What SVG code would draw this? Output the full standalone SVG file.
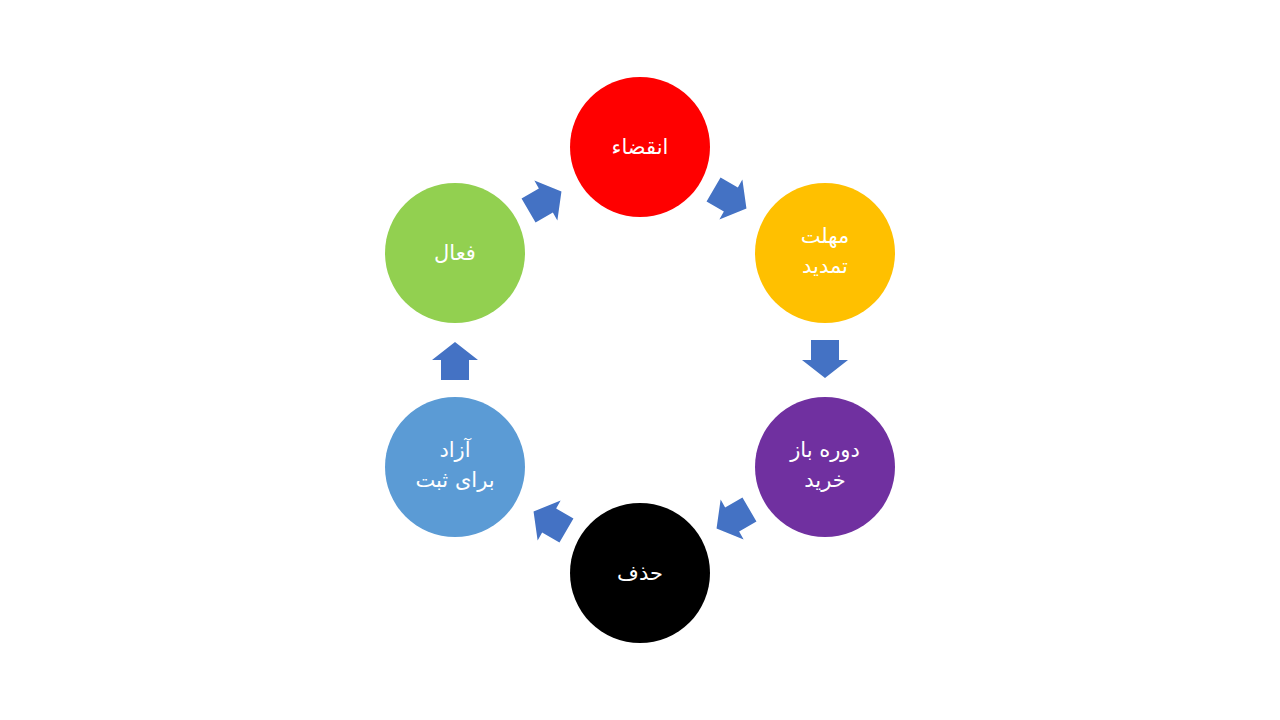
<svg xmlns="http://www.w3.org/2000/svg" width="1280" height="720" viewBox="0 0 1280 720">
<style>
.t{fill:#fff;font-family:"DejaVu Sans","Noto Sans",sans-serif;font-size:21px;text-anchor:middle;direction:rtl}
.a{fill:#4472C4}
</style>
<defs><path id="arr" d="M-19,-14 H1 V-23 L19,0 L1,23 V14 H-19 Z"/></defs>
<rect width="1280" height="720" fill="#fff"/>
<g id="connectors">
<use href="#arr" class="a" transform="translate(730,199) rotate(30)"/>
<use href="#arr" class="a" transform="translate(825,359) rotate(90)"/>
<use href="#arr" class="a" transform="translate(733,519) rotate(150)"/>
<use href="#arr" class="a" transform="translate(550,521) rotate(210)"/>
<use href="#arr" class="a" transform="translate(455,361) rotate(270)"/>
<use href="#arr" class="a" transform="translate(545,201) rotate(330)"/>
</g>
<g id="n1"><circle cx="640" cy="147" r="70" fill="#FF0000"/><text class="t" x="640" y="154">انقضاء</text></g>
<g id="n2"><circle cx="825" cy="253" r="70" fill="#FFC000"/><text class="t" x="825" y="243">مهلت</text><text class="t" x="825" y="273">تمدید</text></g>
<g id="n3"><circle cx="825" cy="467" r="70" fill="#7030A0"/><text class="t" x="825" y="457">دوره باز</text><text class="t" x="825" y="487">خرید</text></g>
<g id="n4"><circle cx="640" cy="573" r="70" fill="#000"/><text class="t" x="640" y="580">حذف</text></g>
<g id="n5"><circle cx="455" cy="467" r="70" fill="#5B9BD5"/><text class="t" x="455" y="457">آزاد</text><text class="t" x="455" y="487">برای ثبت</text></g>
<g id="n6"><circle cx="455" cy="253" r="70" fill="#92D050"/><text class="t" x="455" y="260">فعال</text></g>
</svg>
